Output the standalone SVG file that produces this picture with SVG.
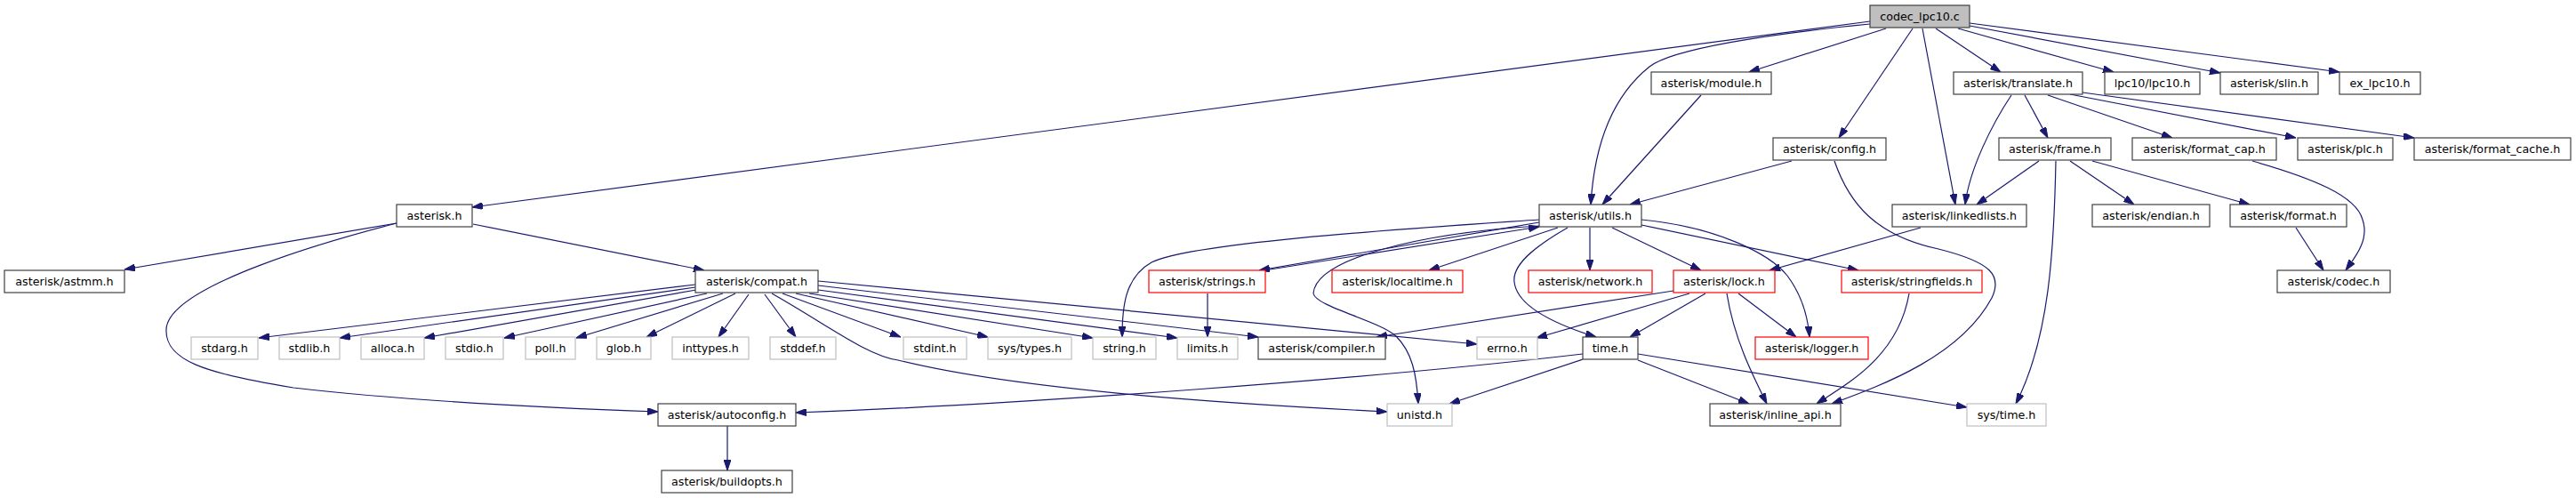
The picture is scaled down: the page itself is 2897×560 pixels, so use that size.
<svg xmlns="http://www.w3.org/2000/svg" width="2897" height="560" viewBox="0 0 2897 560">
<style>
.n rect{fill:#fff;stroke:#404040;stroke-width:1.2}
.n.root rect{fill:#bfbfbf}
.n.red rect{stroke:#ff0000}
.n.gray rect{stroke:#bfbfbf}
.n text{font-family:"DejaVu Sans",sans-serif;font-size:12.7px;fill:#000;text-anchor:middle}
#edges path{fill:none;stroke:#191970;stroke-width:1.2;marker-end:url(#ah)}
</style>
<defs>
<marker id="ah" markerUnits="userSpaceOnUse" markerWidth="12" markerHeight="8" refX="12" refY="4" orient="auto"><path d="M0,0 L12,4 L0,8 z" fill="#191970" stroke="#191970" stroke-width="1"/></marker>
</defs>
<rect width="2897" height="560" fill="#fff"/>
<g id="edges">
<path d="M2103,24 L531,233"/>
<path d="M2103,27 C1990,38 1880,55 1855,75 C1805,115 1792,180 1789,230"/>
<path d="M2121,32 L1967,81"/>
<path d="M2151,32 L2068,155"/>
<path d="M2162,32 L2199,230"/>
<path d="M2177,32 L2250,81"/>
<path d="M2202,32 L2377,81"/>
<path d="M2215,29 L2497,82"/>
<path d="M2215,26 L2631,81"/>
<path d="M1913,107 L1802,230"/>
<path d="M2015,181 L1833,230"/>
<path d="M2063,181 C2080,230 2110,265 2180,280 C2240,295 2252,310 2240,335 C2205,400 2120,432 2060,454"/>
<path d="M2262,107 C2240,140 2215,190 2210,230"/>
<path d="M2277,107 L2303,155"/>
<path d="M2303,107 L2443,155"/>
<path d="M2328,106 L2582,155"/>
<path d="M2342,104 L2715,155"/>
<path d="M2293,181 L2223,230"/>
<path d="M2312,181 C2310,280 2305,380 2267,454"/>
<path d="M2328,181 L2400,230"/>
<path d="M2353,181 L2530,230"/>
<path d="M2533,181 C2600,200 2650,220 2657,247 C2665,270 2648,290 2638,304"/>
<path d="M2582,256 L2613,304"/>
<path d="M2160,256 L1990,304"/>
<path d="M446,251 L140,303"/>
<path d="M532,252 L792,304"/>
<path d="M446,251 C380,268 190,320 187,370 C185,405 230,420 330,436 C450,450 600,458 740,463"/>
<path d="M782,320 L291,380"/>
<path d="M782,323 L382,380"/>
<path d="M783,326 L477,380"/>
<path d="M795,330 L567,380"/>
<path d="M813,330 L648,380"/>
<path d="M827,330 L727,379"/>
<path d="M842,331 L808,379"/>
<path d="M860,331 L895,379"/>
<path d="M880,330 L1013,379"/>
<path d="M895,330 L1111,379"/>
<path d="M910,330 L1229,380"/>
<path d="M920,326 L1324,380"/>
<path d="M920,321 L1415,379"/>
<path d="M920,316 L1661,387"/>
<path d="M868,330 C930,365 975,400 1010,405 C1150,440 1400,455 1560,463"/>
<path d="M1731,250 L1416,304"/>
<path d="M1422,304 L1731,255"/>
<path d="M1731,247 C1600,256 1340,272 1295,295 C1265,312 1262,345 1262,379"/>
<path d="M1752,256 L1607,304"/>
<path d="M1731,254 C1600,262 1480,290 1477,330 C1480,345 1550,360 1570,378 C1588,396 1593,420 1595,454"/>
<path d="M1788,256 L1788,304"/>
<path d="M1763,256 C1735,272 1700,295 1703,317 C1706,345 1750,365 1795,379"/>
<path d="M1813,256 L1913,304"/>
<path d="M1846,253 L2090,304"/>
<path d="M1846,247 C1930,255 1990,285 2010,310 C2025,330 2033,355 2035,379"/>
<path d="M1358,330 L1358,379"/>
<path d="M1882,327 L1548,379"/>
<path d="M1900,330 L1728,380"/>
<path d="M1918,330 L1833,379"/>
<path d="M1955,330 L2020,379"/>
<path d="M1942,330 C1950,380 1970,420 1987,454"/>
<path d="M2147,330 C2135,400 2080,430 2043,454"/>
<path d="M1780,404 L1630,454"/>
<path d="M1780,398 C1550,425 1150,455 895,464"/>
<path d="M1842,405 L1967,454"/>
<path d="M1842,398 L2212,458"/>
<path d="M818,479 L818,529"/>
</g>
<g id="n_codec" class="n root"><rect x="2103" y="6" width="112" height="25"/><text x="2159" y="22.5">codec_lpc10.c</text></g>
<g id="n_module" class="n"><rect x="1857" y="81" width="135" height="25"/><text x="1924.5" y="97.5">asterisk/module.h</text></g>
<g id="n_translate" class="n"><rect x="2197" y="81" width="145" height="25"/><text x="2269.5" y="97.5">asterisk/translate.h</text></g>
<g id="n_lpc10" class="n"><rect x="2367" y="81" width="107" height="25"/><text x="2420.5" y="97.5">lpc10/lpc10.h</text></g>
<g id="n_slin" class="n"><rect x="2497" y="81" width="110" height="25"/><text x="2552" y="97.5">asterisk/slin.h</text></g>
<g id="n_exlpc10" class="n"><rect x="2631" y="81" width="91" height="25"/><text x="2676.5" y="97.5">ex_lpc10.h</text></g>
<g id="n_config" class="n"><rect x="1994" y="155" width="127" height="25"/><text x="2057.5" y="171.5">asterisk/config.h</text></g>
<g id="n_frame" class="n"><rect x="2248" y="155" width="126" height="25"/><text x="2311" y="171.5">asterisk/frame.h</text></g>
<g id="n_format_cap" class="n"><rect x="2398" y="155" width="162" height="25"/><text x="2479" y="171.5">asterisk/format_cap.h</text></g>
<g id="n_plc" class="n"><rect x="2584" y="155" width="107" height="25"/><text x="2637.5" y="171.5">asterisk/plc.h</text></g>
<g id="n_format_cache" class="n"><rect x="2715" y="155" width="176" height="25"/><text x="2803" y="171.5">asterisk/format_cache.h</text></g>
<g id="n_asterisk" class="n"><rect x="446" y="230" width="85" height="25"/><text x="488.5" y="246.5">asterisk.h</text></g>
<g id="n_utils" class="n"><rect x="1731" y="230" width="115" height="25"/><text x="1788.5" y="246.5">asterisk/utils.h</text></g>
<g id="n_linkedlists" class="n"><rect x="2128" y="230" width="151" height="25"/><text x="2203.5" y="246.5">asterisk/linkedlists.h</text></g>
<g id="n_endian" class="n"><rect x="2353" y="230" width="132" height="25"/><text x="2419" y="246.5">asterisk/endian.h</text></g>
<g id="n_format" class="n"><rect x="2508" y="230" width="131" height="25"/><text x="2573.5" y="246.5">asterisk/format.h</text></g>
<g id="n_astmm" class="n"><rect x="5" y="304" width="135" height="25"/><text x="72.5" y="320.5">asterisk/astmm.h</text></g>
<g id="n_compat" class="n"><rect x="782" y="304" width="138" height="25"/><text x="851" y="320.5">asterisk/compat.h</text></g>
<g id="n_strings" class="n red"><rect x="1292" y="304" width="131" height="25"/><text x="1357.5" y="320.5">asterisk/strings.h</text></g>
<g id="n_localtime" class="n red"><rect x="1498" y="304" width="147" height="25"/><text x="1571.5" y="320.5">asterisk/localtime.h</text></g>
<g id="n_network" class="n red"><rect x="1719" y="304" width="139" height="25"/><text x="1788.5" y="320.5">asterisk/network.h</text></g>
<g id="n_lock" class="n red"><rect x="1882" y="304" width="114" height="25"/><text x="1939" y="320.5">asterisk/lock.h</text></g>
<g id="n_stringfields" class="n red"><rect x="2071" y="304" width="158" height="25"/><text x="2150" y="320.5">asterisk/stringfields.h</text></g>
<g id="n_codech" class="n"><rect x="2561" y="304" width="127" height="25"/><text x="2624.5" y="320.5">asterisk/codec.h</text></g>
<g id="n_stdarg" class="n gray"><rect x="215" y="379" width="75" height="25"/><text x="252.5" y="395.5">stdarg.h</text></g>
<g id="n_stdlib" class="n gray"><rect x="314" y="379" width="68" height="25"/><text x="348" y="395.5">stdlib.h</text></g>
<g id="n_alloca" class="n gray"><rect x="406" y="379" width="71" height="25"/><text x="441.5" y="395.5">alloca.h</text></g>
<g id="n_stdio" class="n gray"><rect x="501" y="379" width="65" height="25"/><text x="533.5" y="395.5">stdio.h</text></g>
<g id="n_poll" class="n gray"><rect x="591" y="379" width="56" height="25"/><text x="619" y="395.5">poll.h</text></g>
<g id="n_glob" class="n gray"><rect x="671" y="379" width="61" height="25"/><text x="701.5" y="395.5">glob.h</text></g>
<g id="n_inttypes" class="n gray"><rect x="756" y="379" width="86" height="25"/><text x="799" y="395.5">inttypes.h</text></g>
<g id="n_stddef" class="n gray"><rect x="866" y="379" width="74" height="25"/><text x="903" y="395.5">stddef.h</text></g>
<g id="n_stdint" class="n gray"><rect x="1016" y="379" width="71" height="25"/><text x="1051.5" y="395.5">stdint.h</text></g>
<g id="n_systypes" class="n gray"><rect x="1111" y="379" width="94" height="25"/><text x="1158" y="395.5">sys/types.h</text></g>
<g id="n_string" class="n gray"><rect x="1229" y="379" width="71" height="25"/><text x="1264.5" y="395.5">string.h</text></g>
<g id="n_limits" class="n gray"><rect x="1324" y="379" width="68" height="25"/><text x="1358" y="395.5">limits.h</text></g>
<g id="n_compiler" class="n"><rect x="1415" y="379" width="143" height="25"/><text x="1486.5" y="395.5">asterisk/compiler.h</text></g>
<g id="n_errno" class="n gray"><rect x="1661" y="379" width="68" height="25"/><text x="1695" y="395.5">errno.h</text></g>
<g id="n_time" class="n"><rect x="1780" y="379" width="62" height="25"/><text x="1811" y="395.5">time.h</text></g>
<g id="n_logger" class="n red"><rect x="1974" y="379" width="127" height="25"/><text x="2037.5" y="395.5">asterisk/logger.h</text></g>
<g id="n_autoconfig" class="n"><rect x="740" y="454" width="155" height="25"/><text x="817.5" y="470.5">asterisk/autoconfig.h</text></g>
<g id="n_unistd" class="n gray"><rect x="1560" y="454" width="73" height="25"/><text x="1596.5" y="470.5">unistd.h</text></g>
<g id="n_inline_api" class="n"><rect x="1923" y="454" width="147" height="25"/><text x="1996.5" y="470.5">asterisk/inline_api.h</text></g>
<g id="n_systime" class="n gray"><rect x="2212" y="454" width="89" height="25"/><text x="2256.5" y="470.5">sys/time.h</text></g>
<g id="n_buildopts" class="n"><rect x="744" y="529" width="147" height="25"/><text x="817.5" y="545.5">asterisk/buildopts.h</text></g>
</svg>
